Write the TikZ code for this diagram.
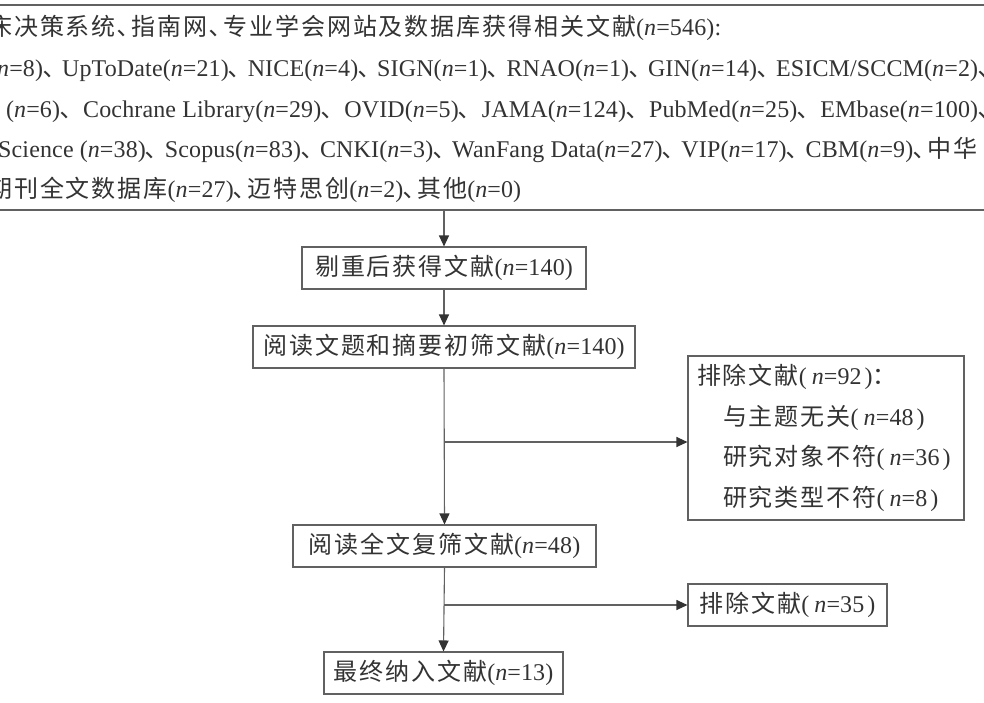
\documentclass[tikz,border=0pt]{standalone}
\usepackage{fontspec}
\setmainfont[LetterSpace=0.6]{Liberation Serif}
\newfontfamily\cjk[LetterSpace=8]{Noto Sans CJK SC}
\newcommand\zh[1]{{\cjk #1}}
\newcommand\nn{\textit{n}}
\newcommand\dun{\zh{､}}
\newcommand\lp{(\hspace{5pt}}
\newcommand\rp{\hspace{3pt})}
\usetikzlibrary{arrows.meta}
\begin{document}
\begin{tikzpicture}[x=1pt,y=-1pt,
  every node/.style={text=black!80, font=\fontsize{24}{28}\selectfont},
  box/.style={draw=black!62, line width=1.1pt, inner sep=0pt, minimum height=42pt},
  srcline/.style={anchor=base west, inner sep=0pt},
  arr/.style={draw=black!62, line width=1.1pt, -{Triangle[length=11pt,width=10pt,color=black!80]}}]
\useasboundingbox (0,0) rectangle (984,702);
\clip (0,0) rectangle (984,702);
\fill[white] (0,0) rectangle (984,702);
% source box
\node[box, minimum width=1012pt, minimum height=205pt] (src) at (492,107.5) {};
\node[srcline] (l1) at (-12,35) {\zh{床决策系统\dun 指南网\dun 专业学会网站及数据库获得相关文献}(\nn=546):};
\node[srcline] (l2) at (-11,76) {\makebox[1001pt][l]{(\nn=8)\dun\hfill UpToDate(\nn=21)\dun\hfill NICE(\nn=4)\dun\hfill SIGN(\nn=1)\dun\hfill RNAO(\nn=1)\dun\hfill GIN(\nn=14)\dun\hfill ESICM/SCCM(\nn=2)\dun}};
\node[srcline] (l3) at (6,117) {\makebox[984pt][l]{(\nn=6)\dun\hfill Cochrane Library(\nn=29)\dun\hfill OVID(\nn=5)\dun\hfill JAMA(\nn=124)\dun\hfill PubMed(\nn=25)\dun\hfill EMbase(\nn=100)\dun}};
\node[srcline] (l4) at (-2,157) {\makebox[979pt][l]{Science (\nn=38)\dun\hfill Scopus(\nn=83)\dun\hfill CNKI(\nn=3)\dun\hfill WanFang Data(\nn=27)\dun\hfill VIP(\nn=17)\dun\hfill CBM(\nn=9)\dun\zh{中华}}};
\node[srcline] (l5) at (-12,197) {\zh{期刊全文数据库}(\nn=27)\dun\zh{迈特思创}(\nn=2)\dun\zh{其他}(\nn=0)};
% flow boxes
\node[box, minimum width=284pt] (s2) at (444,268) {\zh{剔重后获得文献}(\nn=140)};
\node[box, minimum width=382pt] (s3) at (444,347) {\zh{阅读文题和摘要初筛文献}(\nn=140)};
\node[box, minimum width=276pt, minimum height=164pt, text width=258pt, align=left,
      font=\fontsize{24}{40.5}\selectfont] (ex1) at (826,438) {%
  \zh{排除文献}\lp\nn=92\rp\zh{：}\\
  \hspace*{26pt}\zh{与主题无关}\lp\nn=48\rp\\
  \hspace*{26pt}\zh{研究对象不符}\lp\nn=36\rp\\
  \hspace*{26pt}\zh{研究类型不符}\lp\nn=8\rp};
\node[box, minimum width=303pt] (s4) at (444.5,546) {\zh{阅读全文复筛文献}(\nn=48)};
\node[box, minimum width=199pt] (ex2) at (787.5,605) {\zh{排除文献}\lp\nn=35\rp};
\node[box, minimum width=239pt] (s5) at (443.5,673) {\zh{最终纳入文献}(\nn=13)};
% connectors
\coordinate (b1) at (444,442);
\coordinate (b2) at (444,605);
\draw[arr] (s2.north |- src.south) -- (s2.north);
\draw[arr] (s2.south) -- (s3.north);
\draw[arr] (s3.south) -- (s4.north);
\draw[arr] (b1) -- (b1 -| ex1.west);
\draw[arr] (s4.south) -- (s5.north);
\draw[arr] (b2) -- (ex2.west);
\end{tikzpicture}
\end{document}
